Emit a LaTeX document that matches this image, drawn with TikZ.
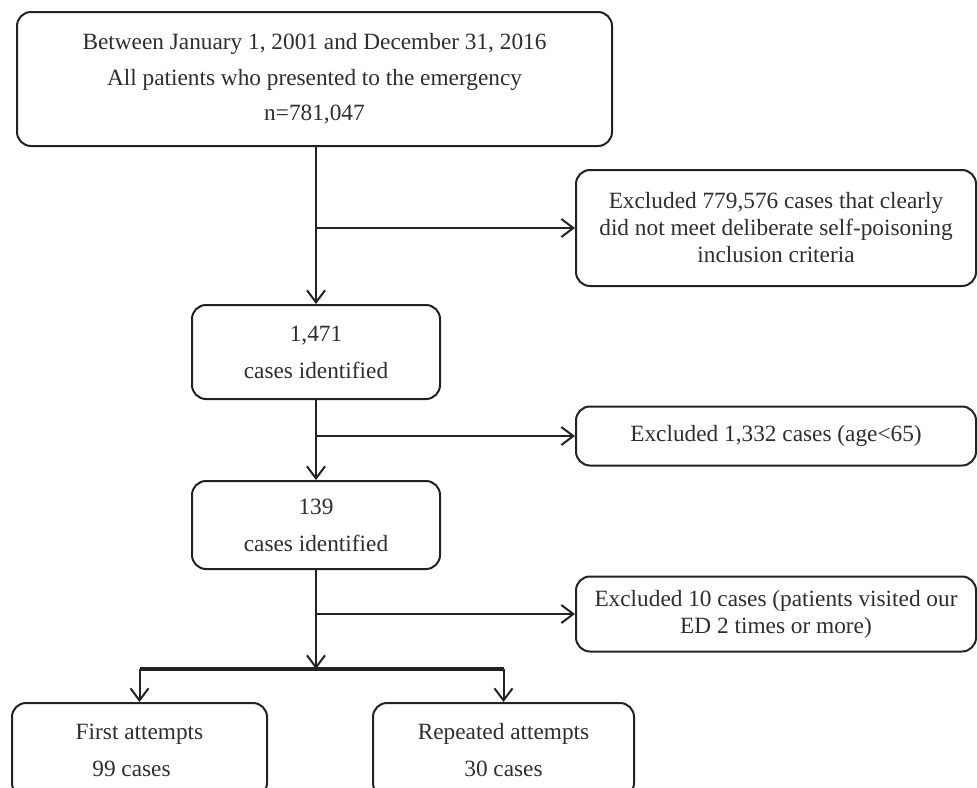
\documentclass[tikz,border=0pt]{standalone}
\usepackage{fontspec}
\setmainfont{Liberation Serif}
\usetikzlibrary{arrows.meta}
\definecolor{ink}{HTML}{222222}
\definecolor{txt}{HTML}{2e2e2e}
\tikzset{
  x=1pt, y=-1pt,
  box/.style={draw=ink, line width=2pt, rounded corners=14pt, inner sep=0pt,
    align=center, text=txt},
  wide/.style={font=\fontsize{23.3}{35.5}\selectfont},
  mid/.style={font=\fontsize{23.3}{37}\selectfont},
  side/.style={font=\fontsize{23.3}{27}\selectfont},
  arr/.style={draw=ink, line width=2pt, -{Straight Barb[length=12pt,width=18pt,line width=2pt]}},
  barline/.style={draw=ink, line width=3.6pt},
}
\begin{document}
\begin{tikzpicture}
\clip (0,0) rectangle (977,787);
\fill[white] (0,0) rectangle (977,787);

\node[box, wide, minimum width=595pt, minimum height=134pt] (top) at (314.5,79)
  {Between January 1, 2001 and December 31, 2016\\All patients who presented to the emergency\\n=781,047};
\node[box, side, minimum width=400pt, minimum height=116pt] (r1) at (776,228)
  {Excluded 779,576 cases that clearly\\did not meet deliberate self-poisoning\\inclusion criteria};
\node[box, mid, minimum width=248pt, minimum height=94pt] (b2) at (316,352)
  {1,471\\cases identified};
\node[box, side, minimum width=400pt, minimum height=59pt] (r2) at (776,436)
  {Excluded 1,332 cases (age<65)};
\node[box, mid, minimum width=248pt, minimum height=88pt] (b3) at (316,525)
  {139\\cases identified};
\node[box, side, minimum width=400pt, minimum height=75pt] (r3) at (776,614)
  {Excluded 10 cases (patients visited our\\ED 2 times or more)};
\node[box, mid, minimum width=255pt, minimum height=94pt] (f1) at (139.5,750)
  {First attempts\\99 cases\hspace*{16pt}};
\node[box, mid, minimum width=261pt, minimum height=94pt] (f2) at (503.5,750)
  {Repeated attempts\\30 cases};

\coordinate (barc) at (316,669);

\draw[arr] (top.south -| b2.north) -- (b2.north);
\draw[arr] (b2.north |- r1.west) -- (r1.west);
\draw[arr] (b2.south) -- (b3.north);
\draw[arr] (b3.north |- r2.west) -- (r2.west);
\draw[arr] (b3.south) -- (barc);
\draw[arr] (b3.south |- r3.west) -- (r3.west);
\draw[barline] (f1.north |- barc) -- (f2.north |- barc);
\draw[arr] (f1.north |- barc) -- (f1.north);
\draw[arr] (f2.north |- barc) -- (f2.north);
\end{tikzpicture}
\end{document}
